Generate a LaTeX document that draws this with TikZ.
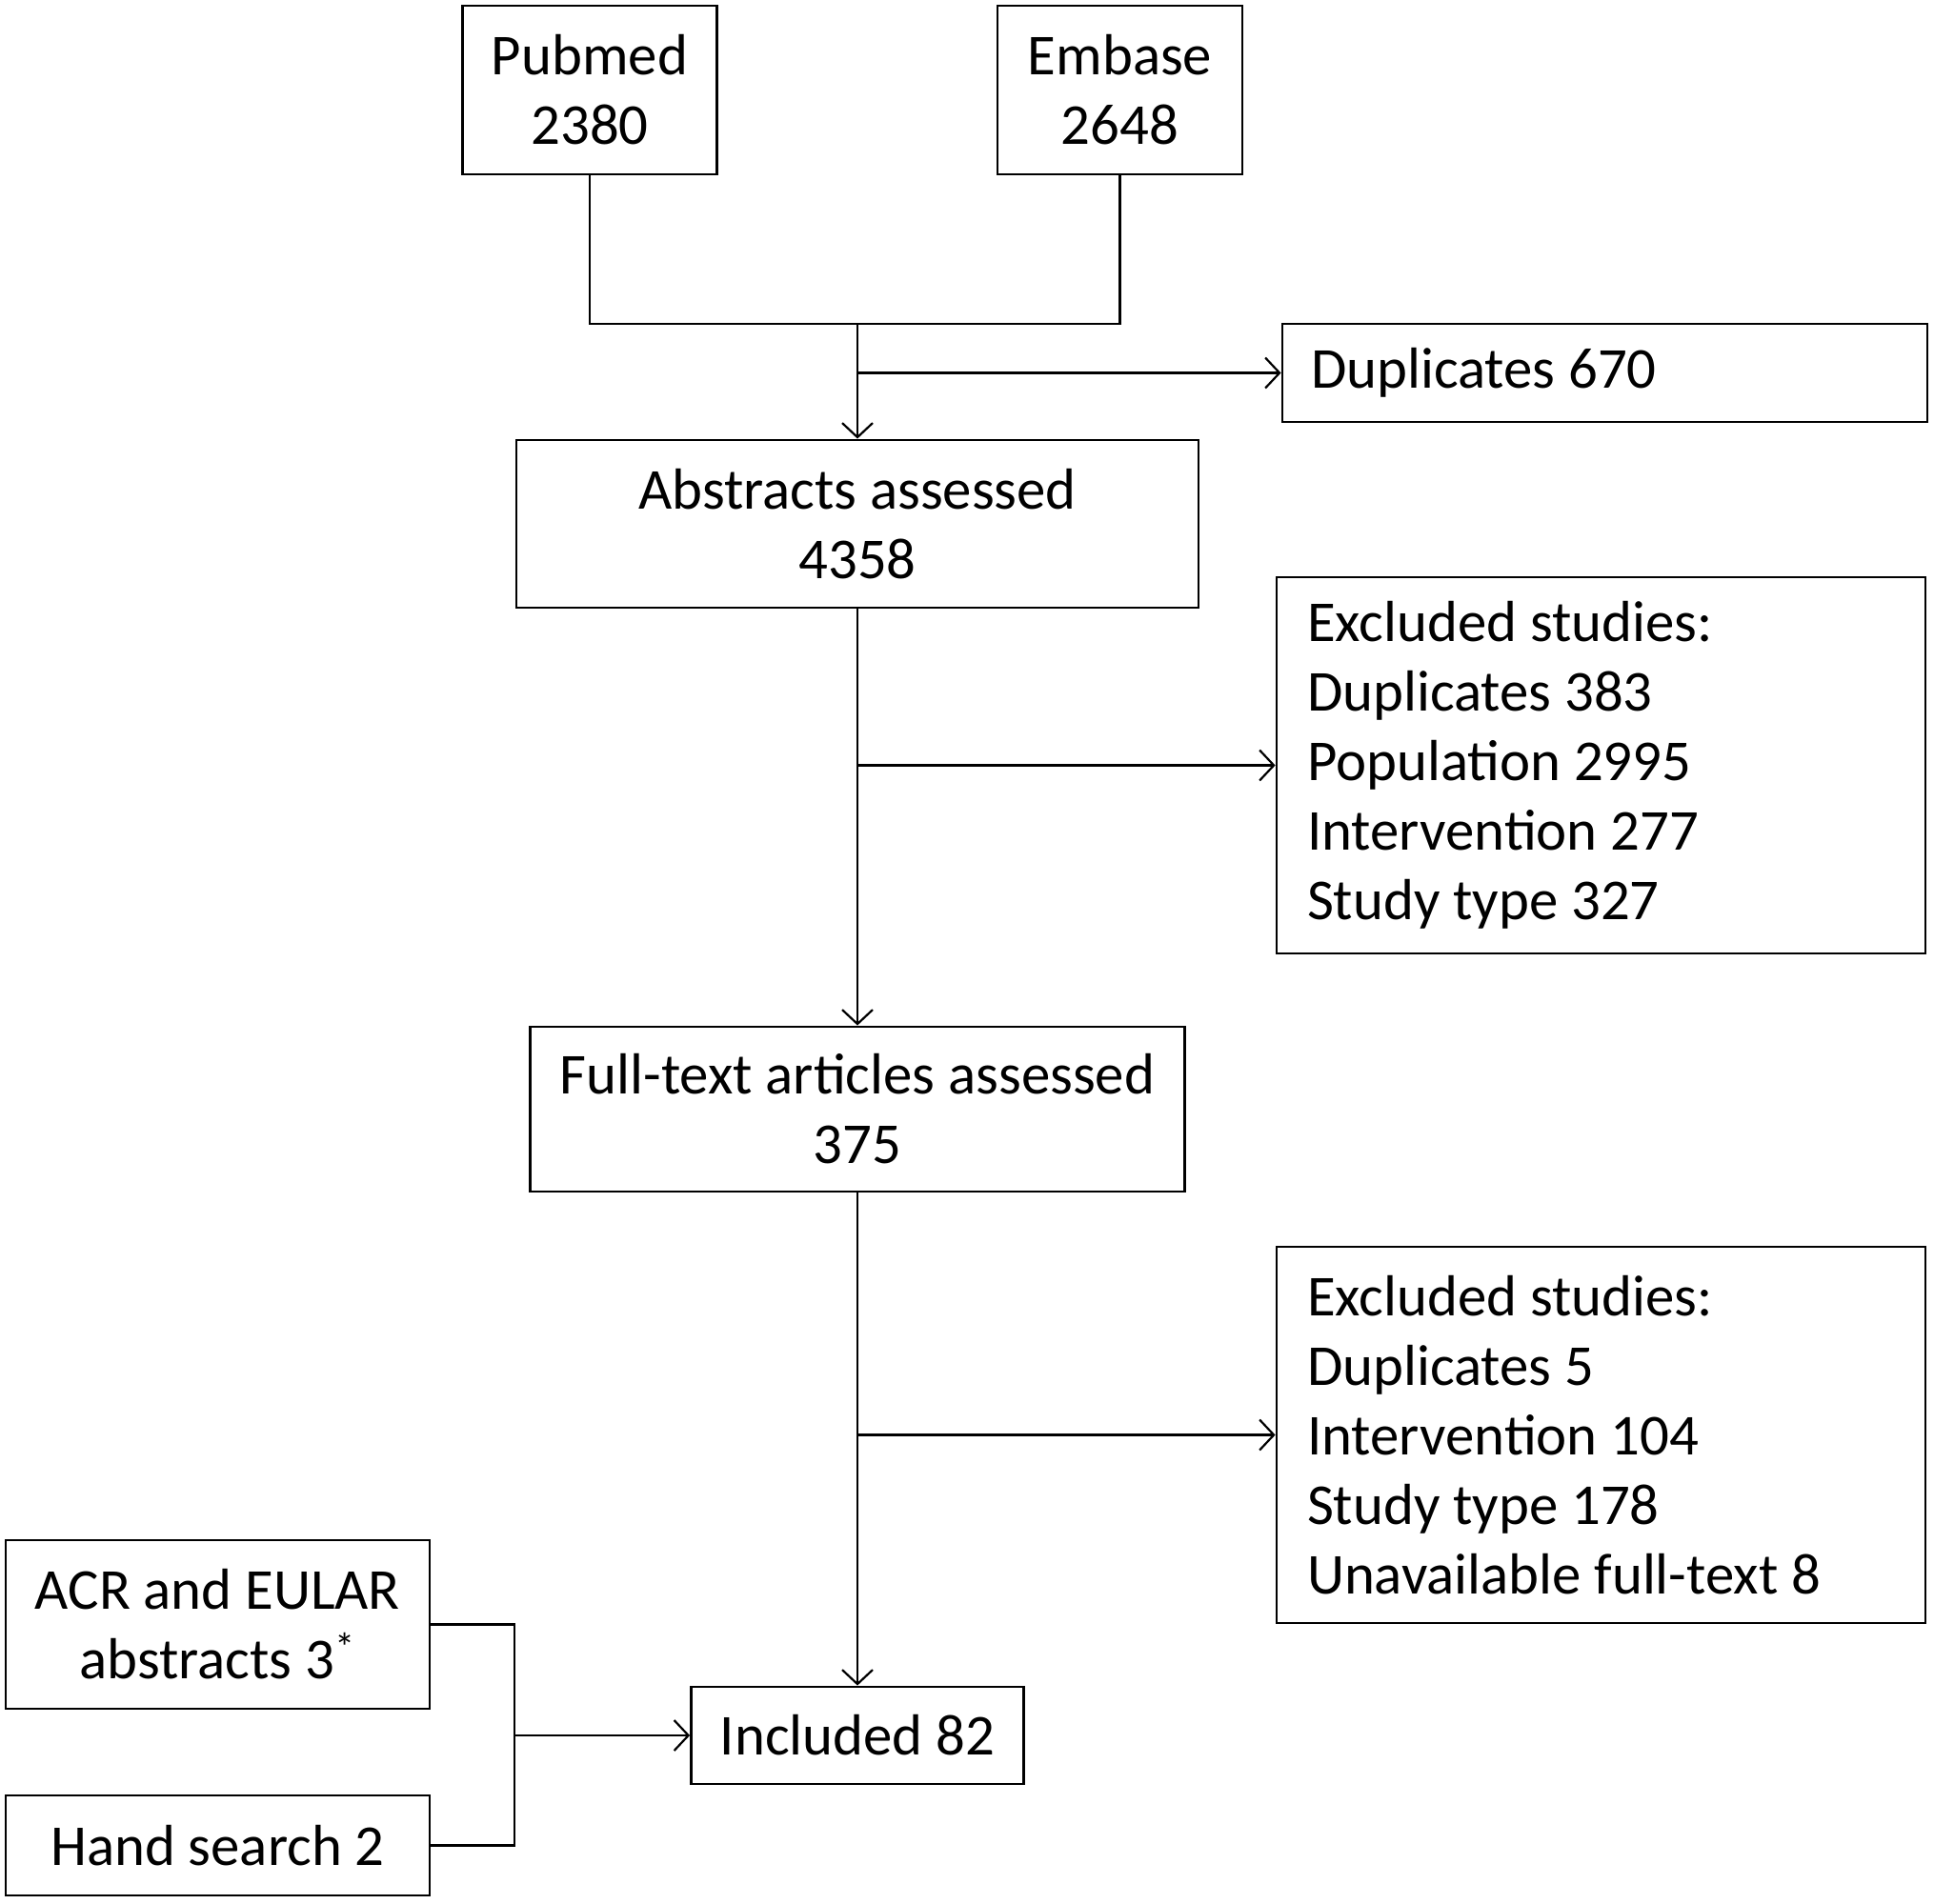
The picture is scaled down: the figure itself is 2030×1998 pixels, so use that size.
\documentclass[tikz,border=0pt]{standalone}
\usepackage{fontspec}
\setmainfont{Carlito}
\usepackage{tikz}
\usetikzlibrary{positioning,calc,arrows.meta}

\begin{document}
\begin{tikzpicture}[x=0.5pt, y=-0.5pt, >={Straight Barb[length=7.5pt,width=16pt]},
  box/.style={draw, line width=1.4pt, inner sep=0pt, align=center,
    font=\fontsize{30.4pt}{36.5pt}\selectfont},
  listbox/.style={box, align=flush left, inner xsep=16pt, text width=308.5pt, minimum height=197.5pt},
  link/.style={line width=1.1pt}]
\useasboundingbox (0,0) rectangle (2030,1998);

\node (P) [box, minimum width=133.5pt, minimum height=88.5pt] at (619,94.5) {Pubmed\\2380};
\node (E) [box, minimum width=128.5pt, minimum height=88.5pt] at (1175.5,94.5) {Embase\\2648};
\node (A) [box, minimum width=358pt, minimum height=88pt] at (900,550) {Abstracts assessed\\4358};
\node (D) [box, align=flush left, inner xsep=15pt, text width=308.5pt, minimum height=51.5pt] at (1684.5,391.5) {Duplicates 670};
\node (X1) [listbox] at (1680.5,803.5) {Excluded studies:\\Duplicates 383\\Population 2995\\Intervention 277\\Study type 327};
\node (F) [box, minimum width=343.5pt, minimum height=86.5pt] at (900,1164.5) {Full-text articles assessed\\375};
\node (X2) [listbox] at (1680.5,1506.5) {Excluded studies:\\Duplicates 5\\Intervention 104\\Study type 178\\Unavailable full-text 8};
\node (I) [box, minimum width=174.5pt, minimum height=51pt] at (900,1822) {Included 82};
\node (R) [box, minimum width=222.5pt, minimum height=88.5pt] at (228.5,1705.5) {ACR and EULAR\\abstracts 3\textsuperscript{*}};
\node (H) [box, minimum width=222.5pt, minimum height=52.5pt] at (228.5,1937.5) {Hand search 2};

\coordinate (M) at (900,340);
\coordinate (J) at (540,1822);

\draw[link] (P.south) -- (P.south |- M) -- (E.south |- M) -- (E.south);
\draw[link, ->] (M) -- (A.north);
\draw[link, ->] (M |- D.west) -- (D.west);
\draw[link, ->] (A.south) -- (F.north);
\draw[link, ->] (A.south |- X1.west) -- (X1.west);
\draw[link, ->] (F.south) -- (I.north);
\draw[link, ->] (F.south |- X2.west) -- (X2.west);
\draw[link] (R.east) -| (J) |- (H.east);
\draw[link, ->] (J) -- (I.west);
\end{tikzpicture}
\end{document}
